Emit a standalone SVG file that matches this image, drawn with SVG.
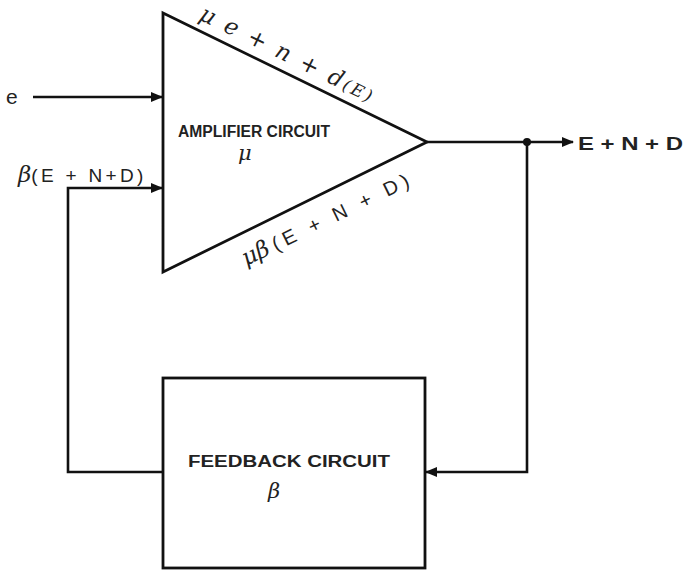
<svg xmlns="http://www.w3.org/2000/svg" width="685" height="572" viewBox="0 0 685 572">
<defs>
<style>
.ln{fill:none;stroke:#111;stroke-width:2.6}
.sh{fill:#fff;stroke:#111;stroke-width:2.8}
.t{font-family:"Liberation Sans",Arial,sans-serif;fill:#222}
.lab{font-weight:bold}
.sym{font-family:"DejaVu Serif","Liberation Serif",serif;font-style:italic;fill:#222}
</style>
<marker id="ah" markerWidth="12" markerHeight="10" refX="11" refY="5" orient="auto" markerUnits="userSpaceOnUse">
<path d="M0,0 L12,5 L0,10 Z" fill="#111"/>
</marker>
</defs>
<rect width="685" height="572" fill="#fff"/>
<g id="connectors">
<line class="ln" x1="33" y1="97" x2="162" y2="97" marker-end="url(#ah)"/>
<polyline class="ln" points="163,472 68,472 68,188 162,188" marker-end="url(#ah)"/>
<line class="ln" x1="427" y1="142" x2="573" y2="142" marker-end="url(#ah)"/>
<circle cx="527" cy="142" r="4" fill="#111"/>
<polyline class="ln" points="527,142 527,472 426,472" marker-end="url(#ah)"/>
</g>
<g id="amplifier">
<polygon class="sh" points="163,13 163,272 427,142"/>
<text class="t lab" x="178" y="137" font-size="16" textLength="152" lengthAdjust="spacingAndGlyphs">AMPLIFIER CIRCUIT</text>
<text class="sym" x="238" y="160" font-size="21">μ</text>
<text class="sym" transform="translate(198,19) rotate(26)" font-size="23" textLength="190">μ e + n + d<tspan font-size="17">(E)</tspan></text>
<text class="sym" transform="translate(246,266) rotate(-26)" font-size="23">μβ<tspan class="t" font-style="normal" font-size="20" dx="5" textLength="150">(E + N + D)</tspan></text>
</g>
<g id="feedback">
<rect class="sh" x="163" y="378" width="262" height="190"/>
<text class="t lab" x="188" y="467" font-size="16" textLength="202" lengthAdjust="spacingAndGlyphs">FEEDBACK CIRCUIT</text>
<text class="sym" x="268" y="498" font-size="21">β</text>
</g>
<g id="labels">
<text class="t" x="6" y="104" font-size="21">e</text>
<text class="t" x="18" y="182" font-size="19"><tspan class="sym" font-size="23">β</tspan><tspan textLength="112">(E + N+D)</tspan></text>
<text class="t lab" x="578" y="150" font-size="19" textLength="105" lengthAdjust="spacingAndGlyphs">E + N + D</text>
</g>
</svg>
